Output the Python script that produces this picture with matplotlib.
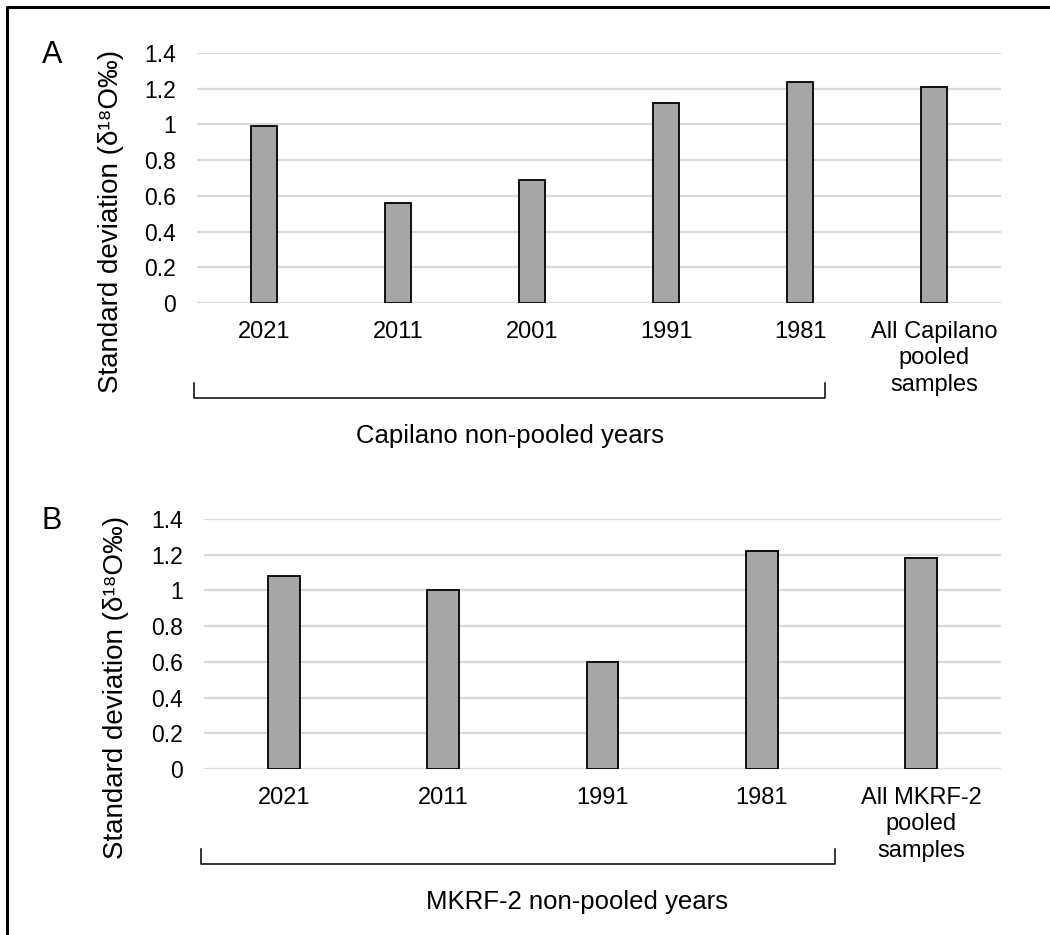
import matplotlib
matplotlib.use('Agg')
import matplotlib.pyplot as plt
from matplotlib.lines import Line2D

plt.rcParams['font.family'] = ['Liberation Sans', 'DejaVu Sans']

# ---- Dados: desvio padrão de δ18O por ano ----
capilano_cats = ['2021', '2011', '2001', '1991', '1981', 'All Capilano\npooled\nsamples']
capilano_sd = [0.99, 0.56, 0.69, 1.12, 1.24, 1.21]

mkrf_cats = ['2021', '2011', '1991', '1981', 'All MKRF-2\npooled\nsamples']
mkrf_sd = [1.08, 1.00, 0.60, 1.22, 1.18]

yticks = [0, 0.2, 0.4, 0.6, 0.8, 1, 1.2, 1.4]
ytick_labels = ['0', '0.2', '0.4', '0.6', '0.8', '1', '1.2', '1.4']

W, H = 1050, 935
YLABEL = 'Standard deviation (δ\u00b9\u2078O‰)'
FS_TICK = 16.5
FS_CAT = 17
FS_YLAB = 20
FS_GRUPO = 18.5


def px(x, y):
    # converte pixels (origem no topo) para fração da figura
    return x / W, 1 - y / H


def painel(fig, rect, cats, vals, letra, grupo, brk, grupo_x, ylab_x):
    left, top, right, bottom = rect
    x0, y0 = px(left, bottom)
    ax = fig.add_axes([x0, y0, (right - left) / W, (bottom - top) / H])

    pos = list(range(len(cats)))
    ax.bar(pos, vals, width=0.2, color='#a6a6a6', edgecolor='black', linewidth=1.3, zorder=3)

    ax.set_xlim(-0.5, len(cats) - 0.5)
    ax.set_ylim(0, 1.4)
    ax.set_yticks(yticks)
    ax.set_yticklabels(ytick_labels, fontsize=FS_TICK)
    ax.set_xticks(pos)
    ax.set_xticklabels(cats, fontsize=FS_CAT, linespacing=1.25)
    ax.tick_params(axis='both', length=0)
    ax.tick_params(axis='y', pad=15)
    ax.tick_params(axis='x', pad=13)
    ax.grid(axis='y', color='#d9d9d9', linewidth=1.6, zorder=0)
    for s in ax.spines.values():
        s.set_visible(False)

    # rótulo do eixo y e letra do painel
    lx, ly = px(ylab_x, (top + bottom) / 2 + 43)
    fig.text(lx, ly, YLABEL, rotation=90, ha='center', va='center', fontsize=FS_YLAB)
    ax_l, ay_l = px(52, top + 2)
    fig.text(ax_l, ay_l, letra, ha='center', va='center', fontsize=22)

    # colchete dos anos não agrupados
    bx0, bx1 = brk
    ytop, ybase = bottom + 80, bottom + 95
    xs = [bx0, bx0, bx1, bx1]
    ys = [ytop, ybase, ybase, ytop]
    fx = [px(a, b)[0] for a, b in zip(xs, ys)]
    fy = [px(a, b)[1] for a, b in zip(xs, ys)]
    fig.add_artist(Line2D(fx, fy, color='black', linewidth=1.1))
    gx, gy = px(grupo_x, bottom + 133)
    fig.text(gx, gy, grupo, ha='center', va='center', fontsize=FS_GRUPO)
    return ax


fig = plt.figure(figsize=(W / 100, H / 100), dpi=100)

painel(fig, (197, 53, 1001, 303), capilano_cats, capilano_sd, 'A',
       'Capilano non-pooled years', (194, 825), 510, 111)
painel(fig, (204, 519, 1001, 769), mkrf_cats, mkrf_sd, 'B',
       'MKRF-2 non-pooled years', (201, 835), 577, 116)

# moldura (topo e esquerda)
fx0, fy0 = px(7, 7)
fig.add_artist(Line2D([fx0, fx0, 1.0], [0.0, fy0, fy0], color='black', linewidth=2.2))

fig.savefig('out.png', dpi=100)
